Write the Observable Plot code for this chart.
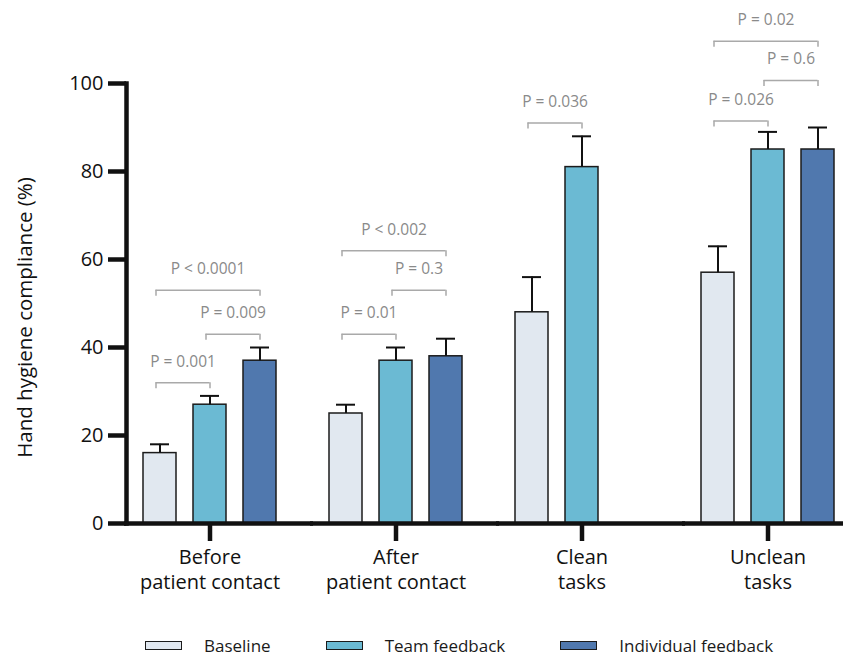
<!DOCTYPE html>
<html><head><meta charset="utf-8">
<script src="https://cdn.jsdelivr.net/npm/d3@7"></script>
<script src="https://cdn.jsdelivr.net/npm/@observablehq/plot@0.6"></script>
<style>
html,body{margin:0;padding:0;background:#fff;overflow:hidden;}
body{font-family:"Open Sans", sans-serif;color:#1a1a1a;}
#chart{width:843px;height:610px;overflow:hidden;}
#chart svg{max-width:none !important;display:block;}
#legend{display:flex;flex-wrap:nowrap;align-items:center;width:843px;box-sizing:border-box;padding-left:145px;margin-top:27px;font-size:17px;line-height:17px;height:17px;color:#1a1a1a;white-space:nowrap;}
.item{display:flex;align-items:center;flex:0 0 auto;margin-right:55px;}
.sw{flex:0 0 auto;width:35px;height:7px;border:1.5px solid #1b1b1b;margin-right:22px;}
</style></head><body>
<div id="chart"></div>
<div id="legend"></div>
<script>
const categories = ["Before\npatient contact", "After\npatient contact", "Clean\ntasks", "Unclean\ntasks"];
const series = ["Baseline", "Team feedback", "Individual feedback"];
const colors = ["#e1e8f0", "#6bbad3", "#5078ae"];
const baseline = [16, 25, 48, 57];
const baselineErr = [18, 27, 56, 63];
const team = [27, 37, 81, 85];
const teamErr = [29, 40, 88, 89];
const individual = [37, 38, null, 85];
const individualErr = [40, 42, null, 90];
const yTicks = [0, 20, 40, 60, 80, 100];
const yLabel = "Hand hygiene compliance (%)";
// P-value brackets
const pCategory = [0, 0, 0, 1, 1, 1, 2, 3, 3, 3];
const pFrom = [0, 1, 0, 0, 1, 0, 0, 0, 1, 0];
const pTo = [1, 2, 2, 1, 2, 2, 1, 1, 2, 2];
const pLevel = [32, 43, 53, 43, 53, 62, 91, 91.5, 100.7, 109.6];
const pLabel = ["P = 0.001", "P = 0.009", "P < 0.0001", "P = 0.01", "P = 0.3", "P < 0.002", "P = 0.036", "P = 0.026", "P = 0.6", "P = 0.02"];

const values = [baseline, team, individual];
const errs = [baselineErr, teamErr, individualErr];
const bars = [];
categories.forEach((c, i) => {
  series.forEach((s, j) => {
    if (values[j][i] != null) bars.push({cat: c, series: s, value: values[j][i], err: errs[j][i]});
  });
});
const pvals = pLabel.map((label, k) => ({
  cat: categories[pCategory[k]], from: series[pFrom[k]], to: series[pTo[k]],
  mid: series[1], level: pLevel[k], label, span: pTo[k] - pFrom[k]
}));

const grey = "#a9a9a9";
const font = "'Open Sans', sans-serif";
function build(step, bw) {
  return Plot.plot({
    width: 853, height: 610,
    marginLeft: 125, marginRight: 0, marginTop: 83, marginBottom: 87,
    style: {fontFamily: font, background: "white", overflow: "visible", color: "#1a1a1a"},
    fx: {domain: categories, paddingInner: 0.1, paddingOuter: 0, label: null},
    x: {domain: series, paddingInner: 0.35, paddingOuter: 0.32, axis: null, label: null},
    y: {domain: [0, 100], label: null},
    color: {domain: series, range: colors},
    marks: [
      Plot.barY(bars, {fx: "cat", x: "series", y: "value", fill: "series", stroke: "#1b1b1b", strokeWidth: 1.5}),
      Plot.ruleX(bars, {fx: "cat", x: "series", y1: "value", y2: "err", stroke: "#111", strokeWidth: 2}),
      Plot.tickY(bars, {fx: "cat", x: "series", y: "err", stroke: "#111", strokeWidth: 2, insetLeft: 7, insetRight: 7}),
      Plot.ruleY(pvals, {fx: "cat", x1: "from", x2: "to", y: "level", stroke: grey, strokeWidth: 1.5, insetLeft: bw / 2 - 4, insetRight: bw / 2}),
      Plot.ruleX(pvals, {fx: "cat", x: "from", dx: -4, y1: "level", y2: "level", insetBottom: -6, stroke: grey, strokeWidth: 1.5}),
      Plot.ruleX(pvals, {fx: "cat", x: "to", y1: "level", y2: "level", insetBottom: -6, stroke: grey, strokeWidth: 1.5}),
      Plot.text(pvals.filter(d => d.span === 2), {fx: "cat", x: "mid", y: "level", dx: -2, dy: -21, text: "label", fill: "#8a8a8a", fontSize: 15.5}),
      Plot.text(pvals.filter(d => d.span === 1), {fx: "cat", x: "from", y: "level", dx: step / 2 - 2, dy: -21, text: "label", fill: "#8a8a8a", fontSize: 15.5}),
      Plot.ruleY([0], {stroke: "#111", strokeWidth: 4.5, insetLeft: -2, insetRight: -20}),
      Plot.frame({anchor: "left", facetAnchor: "left", stroke: "#111", strokeWidth: 4.5}),
      Plot.axisY({ticks: yTicks, tickSize: 18, tickPadding: 5, strokeWidth: 4.5, stroke: "#111", fontSize: 20, fill: "#111", label: null}),
      Plot.text([yLabel], {frameAnchor: "left", facetAnchor: "left", rotate: -90, textAnchor: "middle", dx: -101, dy: 14, text: d => d, fontSize: 20.5, fill: "#111"}),
      Plot.axisFx({anchor: "bottom", tickSize: 18, tickPadding: 5, strokeWidth: 4.5, stroke: "#111", fontSize: 20, fill: "#111", lineHeight: 1.25, label: null})
    ]
  });
}
const first = build(0, 0);
const sx = first.scale("x");
const bw = sx.bandwidth;
const step = sx.step != null ? sx.step : bw / 0.65;
document.getElementById("chart").append(build(step, bw));

const legend = d3.select("#legend");
series.forEach((s, j) => {
  const it = legend.append("div").attr("class", "item");
  it.append("div").attr("class", "sw").style("background", colors[j]);
  it.append("span").text(s);
});
</script>
</body></html>
